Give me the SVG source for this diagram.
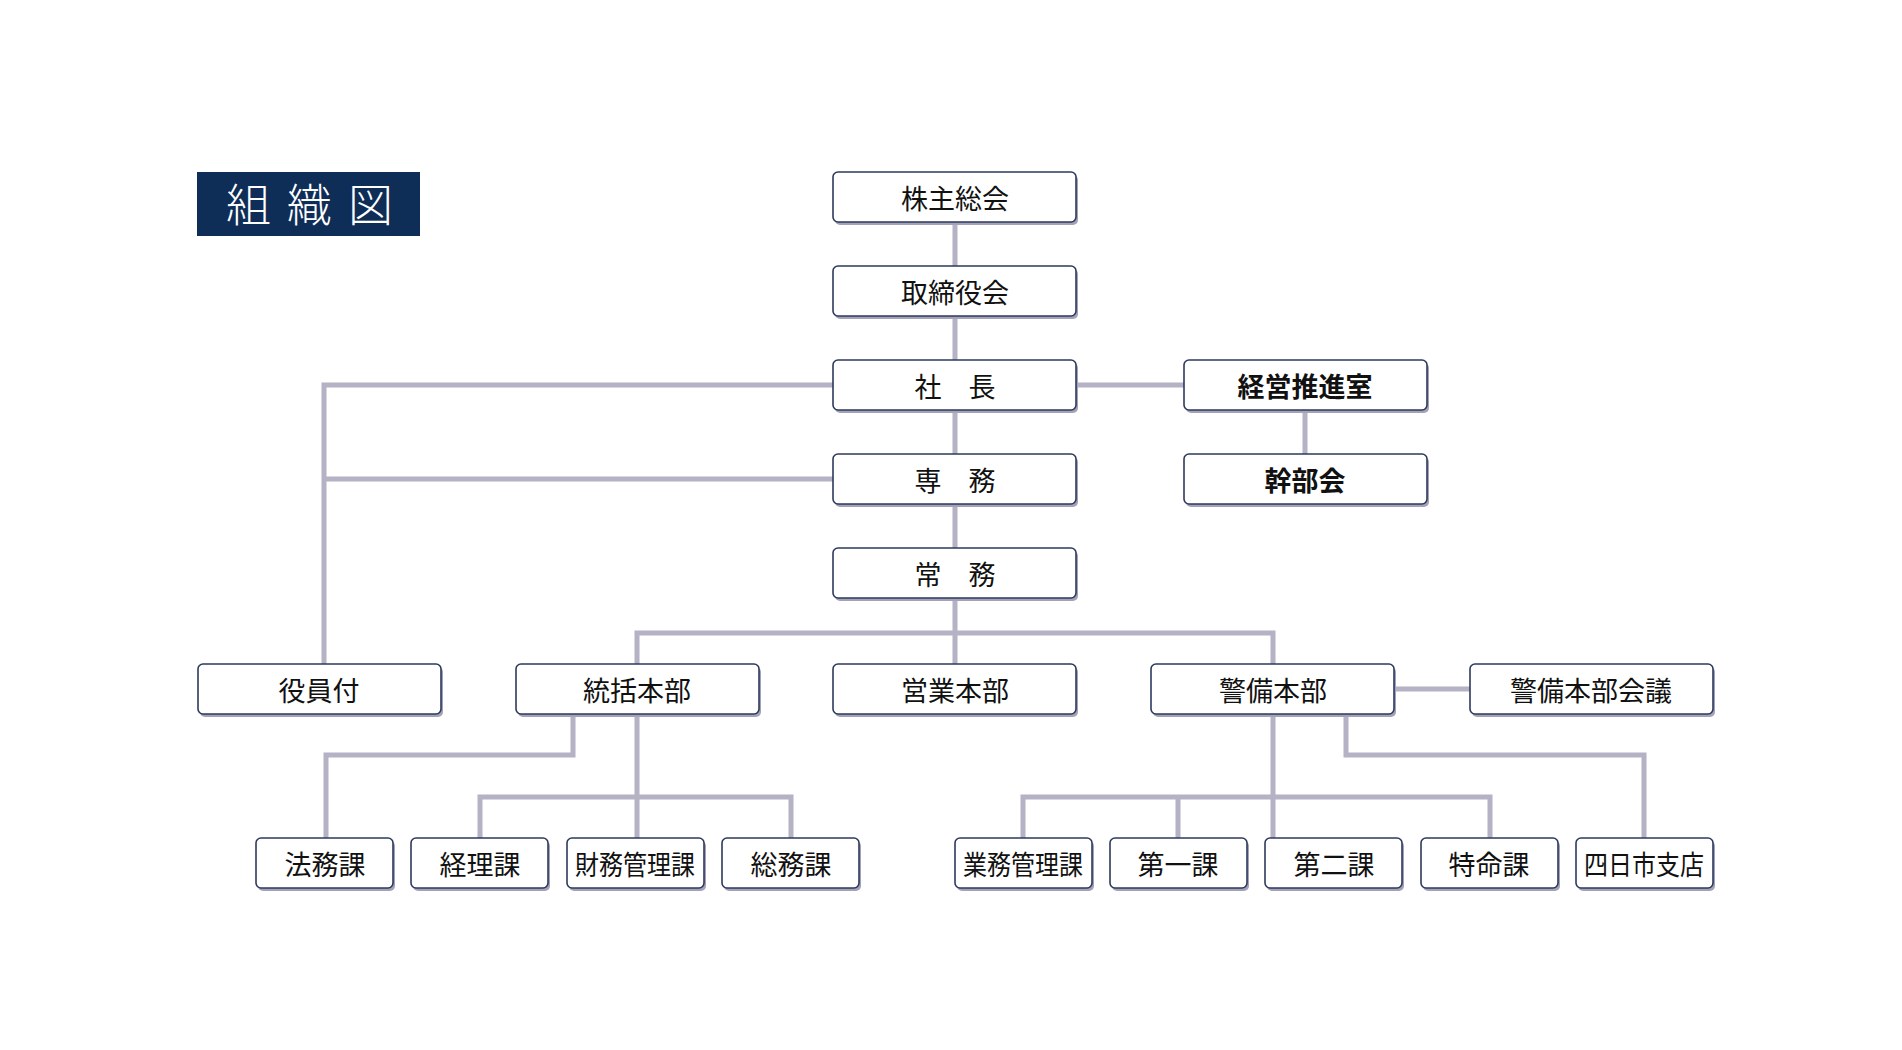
<svg xmlns="http://www.w3.org/2000/svg" width="1902" height="1050" viewBox="0 0 1902 1050">
<style>
.bg{fill:#ffffff}
.box{fill:#ffffff;stroke:#2e3a5c;stroke-width:1.6}
.sh{fill:#a4a2b8}
.lbl{font-family:"Noto Sans CJK JP","Noto Sans CJK SC",sans-serif;font-size:27px;fill:#111111;text-anchor:middle;dominant-baseline:central}
.bold{font-weight:bold}
.conn{fill:none;stroke:#b4b2c4;stroke-width:5;stroke-linejoin:miter}
.title{font-family:"Noto Sans CJK JP","Noto Sans CJK SC",sans-serif;font-size:45px;font-weight:300;fill:#ffffff;letter-spacing:16px}
</style>
<defs>
<g id="bw"><rect x="2" y="3" width="243" height="50" rx="5" class="sh"/><rect x="0" y="0" width="243" height="50" rx="5" class="box"/></g>
<g id="bn"><rect x="2" y="3" width="137" height="50" rx="5" class="sh"/><rect x="0" y="0" width="137" height="50" rx="5" class="box"/></g>
</defs>
<rect class="bg" x="0" y="0" width="1902" height="1050"/>

<g id="connectors">
<path class="conn" d="M955 222V266M955 316V360M955 410V454M955 504V548M955 598V664"/>
<path class="conn" d="M637 664V633H1273V664"/>
<path class="conn" d="M833 385H324V664M833 479H324"/>
<path class="conn" d="M1076 385H1184M1305 410V454M1394 689H1470"/>
<path class="conn" d="M573 715V755H326V838M637 715V838M480 838V797H791V838"/>
<path class="conn" d="M1273 715V838M1023 838V797H1490V838M1178 797V838M1346 715V755H1644V838"/>
</g>

<g id="title">
<rect x="197" y="172" width="223" height="64" fill="#0e2d57"/>
<text class="title" x="226" y="222">組織図</text>
</g>

<g id="n-kabunushi"><use href="#bw" x="833" y="172"/><text class="lbl" x="955" y="197">株主総会</text></g>
<g id="n-torishimari"><use href="#bw" x="833" y="266"/><text class="lbl" x="955" y="291">取締役会</text></g>
<g id="n-shacho"><use href="#bw" x="833" y="360"/><text class="lbl" x="955" y="385">社　長</text></g>
<g id="n-senmu"><use href="#bw" x="833" y="454"/><text class="lbl" x="955" y="479">専　務</text></g>
<g id="n-jomu"><use href="#bw" x="833" y="548"/><text class="lbl" x="955" y="573">常　務</text></g>
<g id="n-keiei"><use href="#bw" x="1184" y="360"/><text class="lbl bold" x="1305" y="385">経営推進室</text></g>
<g id="n-kanbu"><use href="#bw" x="1184" y="454"/><text class="lbl bold" x="1305" y="479">幹部会</text></g>

<g id="n-yakuin"><use href="#bw" x="198" y="664"/><text class="lbl" x="319" y="689">役員付</text></g>
<g id="n-tokatsu"><use href="#bw" x="516" y="664"/><text class="lbl" x="637" y="689">統括本部</text></g>
<g id="n-eigyo"><use href="#bw" x="833" y="664"/><text class="lbl" x="955" y="689">営業本部</text></g>
<g id="n-keibi"><use href="#bw" x="1151" y="664"/><text class="lbl" x="1273" y="689">警備本部</text></g>
<g id="n-keibikaigi"><use href="#bw" x="1470" y="664"/><text class="lbl" x="1591" y="689">警備本部会議</text></g>

<g id="n-homu"><use href="#bn" x="256" y="838"/><text class="lbl" x="325" y="863">法務課</text></g>
<g id="n-keiri"><use href="#bn" x="411" y="838"/><text class="lbl" x="480" y="863">経理課</text></g>
<g id="n-zaimu"><use href="#bn" x="567" y="838"/><text class="lbl" x="635" y="863" textLength="120" lengthAdjust="spacingAndGlyphs">財務管理課</text></g>
<g id="n-somu"><use href="#bn" x="722" y="838"/><text class="lbl" x="791" y="863">総務課</text></g>
<g id="n-gyomu"><use href="#bn" x="955" y="838"/><text class="lbl" x="1023" y="863" textLength="120" lengthAdjust="spacingAndGlyphs">業務管理課</text></g>
<g id="n-daiichi"><use href="#bn" x="1110" y="838"/><text class="lbl" x="1178" y="863">第一課</text></g>
<g id="n-daini"><use href="#bn" x="1265" y="838"/><text class="lbl" x="1334" y="863">第二課</text></g>
<g id="n-tokumei"><use href="#bn" x="1421" y="838"/><text class="lbl" x="1489" y="863">特命課</text></g>
<g id="n-yokkaichi"><use href="#bn" x="1576" y="838"/><text class="lbl" x="1644" y="863" textLength="120" lengthAdjust="spacingAndGlyphs">四日市支店</text></g>
</svg>
